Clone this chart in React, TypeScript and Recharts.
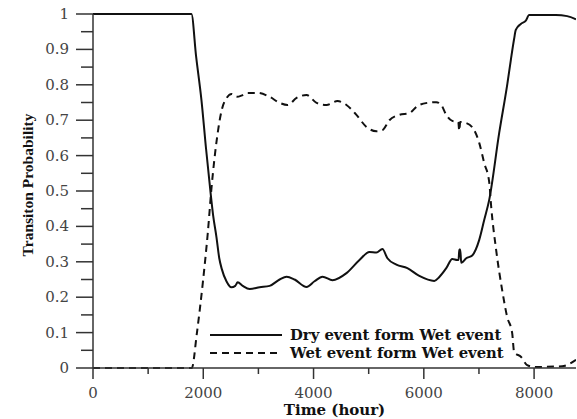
import React from 'react';
import { LineChart, Line, XAxis, YAxis, Legend } from 'recharts';

const dryHours = [0, 1785, 1870, 1967, 2050, 2136, 2180, 2239, 2290, 2335, 2420, 2510, 2580, 2624, 2715, 2842, 3023, 3204, 3385, 3511, 3656, 3873, 4018, 4163, 4344, 4597, 4833, 5014, 5140, 5249, 5340, 5502, 5701, 5918, 6190, 6281, 6407, 6516, 6606, 6630, 6643, 6660, 6679, 6769, 6878, 7005, 7095, 7186, 7367, 7517, 7578, 7638, 7668, 7759, 7850, 7910, 8393, 8600, 8760];
const dryValues = [1, 1, 0.88, 0.757, 0.62, 0.49, 0.43, 0.37, 0.31, 0.28, 0.245, 0.228, 0.232, 0.242, 0.232, 0.223, 0.228, 0.232, 0.25, 0.258, 0.25, 0.229, 0.245, 0.258, 0.248, 0.268, 0.305, 0.328, 0.326, 0.336, 0.31, 0.292, 0.282, 0.26, 0.246, 0.257, 0.282, 0.308, 0.305, 0.305, 0.335, 0.335, 0.297, 0.31, 0.318, 0.362, 0.418, 0.475, 0.664, 0.805, 0.87, 0.93, 0.955, 0.972, 0.981, 0.997, 0.997, 0.994, 0.985];

const wetHours = [0, 1792, 1882, 1991, 2081, 2150, 2244, 2335, 2425, 2516, 2606, 2715, 2805, 2986, 3204, 3385, 3530, 3692, 3873, 4054, 4235, 4434, 4597, 4778, 4959, 5140, 5249, 5376, 5557, 5738, 5882, 6063, 6226, 6317, 6407, 6516, 6625, 6643, 6660, 6769, 6914, 7005, 7095, 7186, 7222, 7312, 7421, 7512, 7602, 7638, 7765, 7874, 8000, 8507, 8760];
const wetValues = [0, 0, 0.096, 0.24, 0.38, 0.51, 0.644, 0.729, 0.763, 0.774, 0.766, 0.771, 0.777, 0.777, 0.766, 0.749, 0.743, 0.763, 0.771, 0.749, 0.743, 0.754, 0.743, 0.715, 0.681, 0.669, 0.672, 0.7, 0.715, 0.72, 0.74, 0.749, 0.751, 0.743, 0.715, 0.698, 0.695, 0.67, 0.695, 0.692, 0.672, 0.636, 0.579, 0.525, 0.455, 0.333, 0.22, 0.144, 0.099, 0.045, 0.031, 0.008, 0.003, 0.005, 0.023];

const xMajorTicks = [0, 2000, 4000, 6000, 8000];
const xMinorTicks = [1000, 3000, 5000, 7000];
const yMajorTicks = [0, 0.1, 0.2, 0.3, 0.4, 0.5, 0.6, 0.7, 0.8, 0.9, 1];
const yMinorTicks = [0.05, 0.15, 0.25, 0.35, 0.45, 0.55, 0.65, 0.75, 0.85, 0.95];

const seriesNames = ['Dry event form Wet event', 'Wet event form Wet event'];
const xTitle = 'Time (hour)';
const yTitle = 'Transiton Probability';

const dryData = dryHours.map((h, i) => ({ hour: h, value: dryValues[i] }));
const wetData = wetHours.map((h, i) => ({ hour: h, value: wetValues[i] }));

const xTicksAll = [...xMajorTicks, ...xMinorTicks].sort((a, b) => a - b);
const yTicksAll = [...yMajorTicks, ...yMinorTicks].sort((a, b) => a - b);

const isMajor = (list: number[], v: number) => list.some((m) => Math.abs(m - v) < 1e-9);

const labelStyle = { fontFamily: 'DejaVu Serif', fontSize: 15, fill: '#444' };

const XTick = (props: any) => {
  const { x, y, payload } = props;
  const v = payload.value;
  const major = isMajor(xMajorTicks, v);
  return (
    <g>
      <line x1={x} y1={y} x2={x} y2={y + (major ? 11 : 6)} stroke="#333" strokeWidth={1.5} />
      {major && (
        <text x={x} y={y + 30} textAnchor="middle" style={labelStyle}>{String(v)}</text>
      )}
    </g>
  );
};

const YTick = (props: any) => {
  const { x, y, payload } = props;
  const v = payload.value;
  const major = isMajor(yMajorTicks, v);
  const txt = v === 0 || v === 1 ? String(v) : v.toFixed(1);
  return (
    <g>
      <line x1={x} y1={y} x2={x - (major ? 17 : 12)} y2={y} stroke="#333" strokeWidth={1.5} />
      {major && (
        <text x={x - 24} y={y + 5} textAnchor="end" style={labelStyle}>{txt}</text>
      )}
    </g>
  );
};

const LegendContent = () => (
  <div style={{ display: 'flex', flexDirection: 'column' }}>
    {seriesNames.map((name, i) => (
      <div key={name} style={{ display: 'flex', alignItems: 'center', height: 18 }}>
        <svg width={72} height={18} style={{ display: 'block' }}>
          <line x1={0} y1={9} x2={72} y2={9} stroke="#111" strokeWidth={2} strokeDasharray={i === 1 ? '7 5' : undefined} />
        </svg>
        <span style={{ marginLeft: 8, fontFamily: 'DejaVu Serif', fontWeight: 'bold', fontSize: 14.8, color: '#111', whiteSpace: 'nowrap', lineHeight: '18px' }}>{name}</span>
      </div>
    ))}
  </div>
);

export default function App() {
  return (
    <div style={{ position: 'absolute', left: 0, top: 0, background: '#fff' }}>
      <LineChart width={577} height={419} margin={{ top: 14, right: 1, bottom: 1, left: 0 }}>
        <XAxis xAxisId="x" dataKey="hour" type="number" domain={[0, 8760]} ticks={xTicksAll} height={50}
          axisLine={{ stroke: '#333', strokeWidth: 1.5 }} tickSize={0} tickMargin={0} tickLine={false}
          tick={<XTick />} interval={0} allowDataOverflow
          label={{ value: xTitle, position: 'insideBottom', offset: 3, style: { fontFamily: 'DejaVu Serif', fontWeight: 'bold', fontSize: 15, fill: '#111' } }} />
        <XAxis xAxisId="xt" orientation="top" type="number" domain={[0, 8760]} height={0} tick={false} tickLine={false}
          axisLine={{ stroke: '#444', strokeWidth: 1.5 }} />
        <YAxis yAxisId="y" type="number" domain={[0, 1]} ticks={yTicksAll} width={93} interval={0}
          axisLine={{ stroke: '#333', strokeWidth: 1.5 }} tickSize={0} tickMargin={0} tickLine={false}
          tick={<YTick />}
          label={{
            content: (props: any) => {
              const vb = props.viewBox || { x: 0, y: 14, width: 93, height: 354 };
              const cx = vb.x + 33;
              const cy = vb.y + vb.height / 2 - 6;
              return (
                <text x={cx} y={cy} transform={`rotate(-90, ${cx}, ${cy})`} textAnchor="middle"
                  style={{ fontFamily: 'Liberation Serif', fontWeight: 'bold', fontSize: 15.5, fill: '#111' }}>{yTitle}</text>
              );
            },
          }} />
        <YAxis yAxisId="yr" orientation="right" type="number" domain={[0, 1]} width={0} tick={false} tickLine={false}
          axisLine={{ stroke: '#999', strokeWidth: 1.5 }} />
        <Line xAxisId="x" yAxisId="y" data={dryData} dataKey="value" type="monotone" stroke="#111" strokeWidth={2}
          dot={false} isAnimationActive={false} name={seriesNames[0]} />
        <Line xAxisId="x" yAxisId="y" data={wetData} dataKey="value" type="monotone" stroke="#111" strokeWidth={2}
          strokeDasharray="7 5" dot={false} isAnimationActive={false} name={seriesNames[1]} />
        <Legend layout="horizontal" verticalAlign="middle" align="center" content={<LegendContent />}
          wrapperStyle={{ left: 210, top: 326, width: 330, height: 36 }} />
      </LineChart>
    </div>
  );
}
